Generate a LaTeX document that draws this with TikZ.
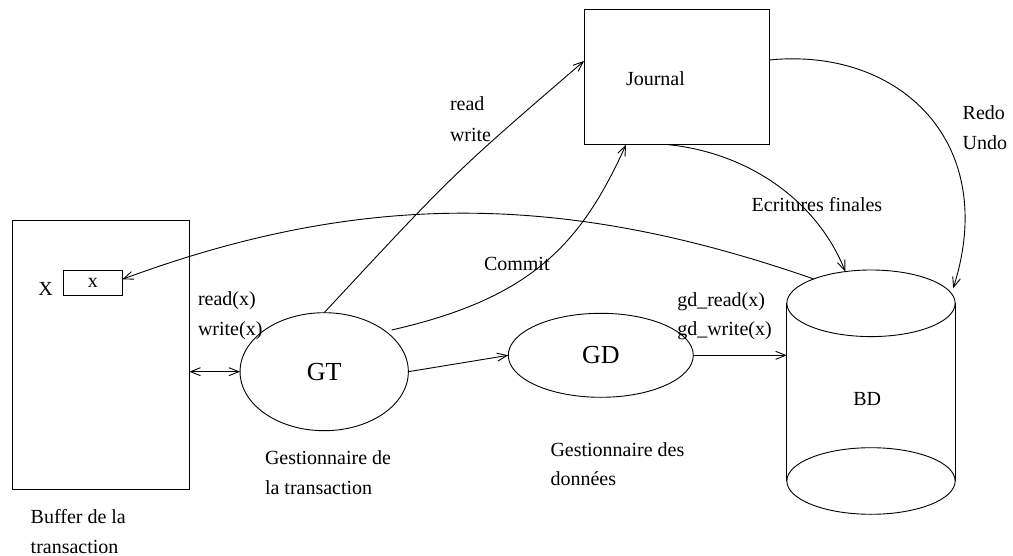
\documentclass[tikz,border=0pt]{standalone}
\usepackage{fontspec}
\setmainfont{Liberation Serif}
\usetikzlibrary{shapes.geometric,arrows.meta}
\begin{document}
\begin{tikzpicture}[x=1pt,y=-1pt,
  every node/.style={inner sep=0pt, outer sep=0pt},
  lbl/.style={anchor=base west, font=\fontsize{20}{24}\selectfont},
  bigtext/.style={font=\fontsize{26}{30}\selectfont},
  boxshape/.style={draw, line width=0.9pt, rectangle},
  oval/.style={draw, line width=0.9pt, ellipse},
  plain/.style={line width=0.9pt},
  conn/.style={line width=0.9pt, -{Straight Barb[length=10pt,width=8pt]}},
  biconn/.style={line width=0.9pt, {Straight Barb[length=10pt,width=8pt]}-{Straight Barb[length=10pt,width=8pt]}}
]
\useasboundingbox (0,0) rectangle (1013,556);

% Buffer of the transaction
\node[boxshape, minimum width=176.6pt, minimum height=268.3pt] (buffer) at (101,354.85) {};
\node[boxshape, minimum width=59pt, minimum height=25.3pt, font=\fontsize{20}{24}\selectfont] (xbox) at (92.8,283.3) {x};
\node[lbl] (Xlabel) at (38.3,296) {X};
\node[lbl] (buf1) at (30.7,523.3) {Buffer de la};
\node[lbl] (buf2) at (30.7,553) {transaction};

% GT
\node[oval, bigtext, minimum width=168.3pt, minimum height=118pt] (gt) at (324.2,371.7) {GT};
\node[lbl] (gt1) at (265,464) {Gestionnaire de};
\node[lbl] (gt2) at (265,494) {la transaction};
\node[lbl] (rx) at (198,305.7) {read(x)};
\node[lbl] (wx) at (198,335.7) {write(x)};

% GD
\node[oval, bigtext, minimum width=185pt, minimum height=84pt] (gd) at (600.8,355.3) {GD};
\node[lbl] (gd1) at (550.5,456) {Gestionnaire des};
\node[lbl] (gd2) at (550.5,485.7) {données};
\node[lbl] (gdr) at (677.3,306.5) {gd\_read(x)};
\node[lbl] (gdw) at (677.3,336) {gd\_write(x)};

% Journal
\node[boxshape, minimum width=185.3pt, minimum height=134.7pt] (journal) at (676.7,77.3) {};
\node[lbl] (journaltext) at (626,86) {Journal};
\node[lbl] (rd) at (450,110.7) {read};
\node[lbl] (wr) at (450,141.7) {write};
\node[lbl] (commit) at (484,270.7) {Commit};
\node[lbl] (ecr) at (751.7,211.7) {Ecritures finales};
\node[lbl] (redo) at (962.7,120) {Redo};
\node[lbl] (undo) at (962.7,149.3) {Undo};

% BD cylinder
\node[oval, minimum width=168.3pt, minimum height=66.6pt] (bdtop) at (871,303.3) {};
\node[oval, minimum width=168.3pt, minimum height=66.6pt] (bdbot) at (871,481) {};
\node[minimum width=168.3pt, minimum height=177.7pt] (bdbody) at (871,392.2) {};
\draw[plain] (bdtop.west) -- (bdbot.west);
\draw[plain] (bdtop.east) -- (bdbot.east);
\node[lbl] (bdlabel) at (853.3,405) {BD};

% connectors
\draw[biconn] (buffer.east |- gt.west) -- (gt.west);
\draw[conn] (gt.east) -- (gd.west);
\draw[conn] (gd.east) -- (gd.east -| bdbody.west);
\draw[conn] (gt.north) .. controls (454,173) .. ([yshift=16.3pt]journal.west);
\draw[conn] ([xshift=8pt]gt.north east) .. controls (531.7,298.2) and (581,244) .. ([xshift=-50.7pt]journal.south);
\draw[conn] ([xshift=-8.7pt]journal.south) .. controls (748,152.7) and (817,200.5) .. (bdtop.129);
\draw[conn] ([yshift=17.3pt]journal.east) .. controls (899,47) and (1000,142) .. ([xshift=-2pt,yshift=15pt]bdtop.east);
\draw[conn] (bdtop.157) .. controls (567,193) and (365,189.6) .. ([yshift=4pt]xbox.east);
\end{tikzpicture}
\end{document}
